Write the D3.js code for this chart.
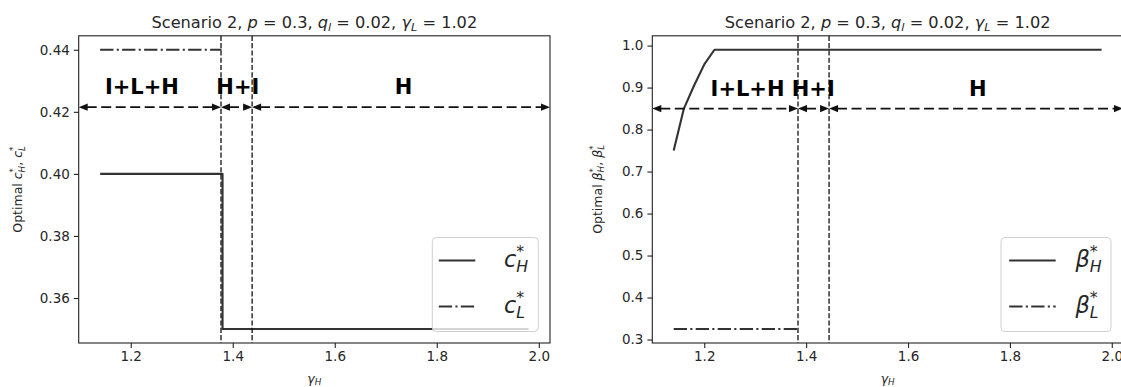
<!DOCTYPE html>
<meta charset="utf-8">
<script src="https://d3js.org/d3.v7.min.js"></script>
<style>
  body { margin: 0; background: #fff; }
  text { font-family: "DejaVu Sans", sans-serif; fill: #262626; }
</style>
<svg id="chart" width="1121" height="387"></svg>
<script>
// ---- data ----
var xTicks = [1.2, 1.4, 1.6, 1.8, 2.0];
var cTicks = [0.36, 0.38, 0.40, 0.42, 0.44];
var bTicks = [0.3, 0.4, 0.5, 0.6, 0.7, 0.8, 0.9, 1.0];

// left panel: optimal c
var cH_x = [1.14, 1.38, 1.38, 1.98];
var cH_y = [0.40, 0.40, 0.35, 0.35];
var cL_x = [1.14, 1.378];
var cL_y = [0.44, 0.44];
var cBounds = [1.377, 1.438];
var cLabelX = [1.222, 1.41, 1.735];
var cLabelY = 0.4257;
var cArrowY = 0.4215;

// right panel: optimal beta
var bH_x = [1.14, 1.16, 1.18, 1.20, 1.22, 1.98];
var bH_y = [0.75, 0.85, 0.905, 0.955, 0.99, 0.99];
var bL_x = [1.14, 1.385];
var bL_y = [0.325, 0.325];
var bBounds = [1.384, 1.445];
var bLabelX = [1.285, 1.414, 1.737];
var bLabelY = 0.88;
var bArrowY = 0.85;

var regionNames = ["I+L+H", "H+I", "H"];

var svg = d3.select("#chart");
var axTop = 35.8, axBottom = 343;

// writes text with italic parts and stacked sub/superscripts into a <text>
function rich(text, parts, fs) {
  var off = 0, pendDx = 0;
  parts.forEach(function(p) {
    if (p.t !== undefined) {
      text.append("tspan")
        .attr("dy", -off).attr("dx", pendDx || null)
        .style("font-size", fs + "px")
        .style("font-style", p.it ? "italic" : null)
        .text(p.t);
      off = 0; pendDx = 0;
    } else {
      var s = fs * 0.7, w = 0, w2 = 0;
      if (p.sub) {
        var ts = text.append("tspan")
          .attr("dy", fs * 0.2 - off).attr("dx", pendDx || null)
          .style("font-size", s + "px").style("font-style", "italic")
          .text(p.sub);
        off = fs * 0.2; pendDx = 0;
        w = ts.node().getComputedTextLength();
      }
      if (p.sup) {
        var tp = text.append("tspan")
          .attr("dy", -fs * 0.45 - off).attr("dx", p.sub ? -w : null)
          .style("font-size", s + "px")
          .text(p.sup);
        off = -fs * 0.45;
        w2 = tp.node().getComputedTextLength();
        if (p.sub && w > w2) pendDx = w - w2;
      }
    }
  });
}

function drawPanel(cfg) {
  var x = d3.scaleLinear().domain(cfg.xdom).range([cfg.x0, cfg.x1]);
  var y = d3.scaleLinear().domain(cfg.ydom).range([axBottom, axTop]);
  var g = svg.append("g");

  var clip = "clip" + cfg.id;
  svg.append("clipPath").attr("id", clip).append("rect")
    .attr("x", cfg.x0).attr("y", axTop).attr("width", cfg.x1 - cfg.x0).attr("height", axBottom - axTop);

  var plot = g.append("g").attr("clip-path", "url(#" + clip + ")");
  var line = d3.line().x(function(d) { return x(d[0]); }).y(function(d) { return y(d[1]); });

  // solid series
  plot.append("path")
    .datum(d3.zip(cfg.hx, cfg.hy))
    .attr("d", line)
    .attr("fill", "none").attr("stroke", "#333").attr("stroke-width", 2.1)
    .attr("stroke-linejoin", "round");
  // dash-dot series
  plot.append("path")
    .datum(d3.zip(cfg.lx, cfg.ly))
    .attr("d", line)
    .attr("fill", "none").attr("stroke", "#333").attr("stroke-width", 2.1)
    .attr("stroke-dasharray", "13.3,3.3,2.1,3.3");

  // region boundaries
  plot.selectAll(".bound").data(cfg.bounds).enter().append("line")
    .attr("x1", function(d) { return x(d); }).attr("x2", function(d) { return x(d); })
    .attr("y1", axTop).attr("y2", axBottom)
    .attr("stroke", "#111").attr("stroke-width", 1.3)
    .attr("stroke-dasharray", "5.1,2.2");

  // double-headed arrows between boundaries
  var edges = [x.domain()[0]].concat(cfg.bounds, [x.domain()[1]]);
  var ay = y(cfg.arrowY), hl = 9, hw = 3.6;
  d3.range(3).forEach(function(i) {
    var a = x(edges[i]), b = x(edges[i + 1]);
    plot.append("line")
      .attr("x1", a + hl - 1).attr("x2", b - hl + 1).attr("y1", ay).attr("y2", ay)
      .attr("stroke", "#111").attr("stroke-width", 1.7)
      .attr("stroke-dasharray", "10,4.5");
    plot.append("path")
      .attr("d", "M" + a + "," + ay + "L" + (a + hl) + "," + (ay - hw) + "L" + (a + hl) + "," + (ay + hw) + "Z")
      .attr("fill", "#111");
    plot.append("path")
      .attr("d", "M" + b + "," + ay + "L" + (b - hl) + "," + (ay - hw) + "L" + (b - hl) + "," + (ay + hw) + "Z")
      .attr("fill", "#111");
  });

  // region names
  g.selectAll(".region").data(regionNames).enter().append("text")
    .attr("x", function(d, i) { return x(cfg.labelX[i]); })
    .attr("y", y(cfg.labelY))
    .attr("text-anchor", "middle")
    .style("font-size", "21px").style("font-weight", "bold").style("fill", "#000")
    .text(function(d) { return d; });

  // spines
  g.append("rect")
    .attr("x", cfg.x0).attr("y", axTop).attr("width", cfg.x1 - cfg.x0).attr("height", axBottom - axTop)
    .attr("fill", "none").attr("stroke", "#222").attr("stroke-width", 1.1);

  // axes
  var xa = g.append("g").attr("transform", "translate(0," + axBottom + ")")
    .call(d3.axisBottom(x).tickValues(xTicks).tickFormat(d3.format(".1f")).tickSize(4.9).tickPadding(4));
  var ya = g.append("g").attr("transform", "translate(" + cfg.x0 + ",0)")
    .call(d3.axisLeft(y).tickValues(cfg.yTicks).tickFormat(d3.format(cfg.yfmt)).tickSize(4.9).tickPadding(4));
  [xa, ya].forEach(function(a) {
    a.select(".domain").remove();
    a.selectAll(".tick line").attr("stroke", "#222").attr("stroke-width", 1.1);
    a.selectAll(".tick text").style("font-size", "13.5px").style("font-family", "DejaVu Sans").attr("fill", "#262626");
  });

  // title
  var cx = (cfg.x0 + cfg.x1) / 2;
  var title = g.append("text").attr("x", cx).attr("y", axTop - 8.3).attr("text-anchor", "middle");
  rich(title, [
    {t: "Scenario 2, "}, {t: "p", it: 1}, {t: " = 0.3, "}, {t: "q", it: 1}, {sub: "l"},
    {t: " = 0.02, "}, {t: "\u03b3", it: 1}, {sub: "L"}, {t: " = 1.02"}
  ], 16.2);

  // axis labels
  var xl = g.append("text").attr("x", cx).attr("y", 382.5).attr("text-anchor", "middle");
  rich(xl, [{t: "\u03b3", it: 1}, {sub: "H"}], 12.5);
  var yl = g.append("text").attr("text-anchor", "middle")
    .attr("transform", "translate(" + cfg.ylabX + "," + ((axTop + axBottom) / 2) + ") rotate(-90)");
  rich(yl, [{t: "Optimal "}, {t: cfg.sym, it: 1}, {sub: "H", sup: "*"}, {t: ", "}, {t: cfg.sym, it: 1}, {sub: "L", sup: "*"}], 12.5);

  // legend
  var L = cfg.legend;
  var lx1 = cfg.legRight, lx0 = lx1 - L.w, ly1 = axBottom - 11.5, ly0 = ly1 - 94;
  var lg = g.append("g");
  lg.append("rect").attr("x", lx0).attr("y", ly0).attr("width", L.w).attr("height", 94)
    .attr("rx", 4).attr("fill", "#fff").attr("fill-opacity", 0.8)
    .attr("stroke", "#d0d0d0").attr("stroke-width", 1);
  var entries = [{sub: "H", dash: null, ey: 23}, {sub: "L", dash: "13.3,3.3,2.1,3.3", ey: 69}];
  entries.forEach(function(e) {
    lg.append("line")
      .attr("x1", lx0 + L.s0).attr("x2", lx0 + L.s0 + L.hlen)
      .attr("y1", ly0 + e.ey).attr("y2", ly0 + e.ey)
      .attr("stroke", "#333").attr("stroke-width", 2.1)
      .attr("stroke-dasharray", e.dash);
    var t = lg.append("text").attr("x", lx0 + L.tx).attr("y", ly0 + e.ey + 6.5);
    rich(t, [{t: cfg.sym, it: 1}, {sub: e.sub, sup: "*"}], 22.5);
  });
}

drawPanel({
  id: 1, x0: 78.7, x1: 550, xdom: [1.098, 2.022], ydom: [0.3455, 0.4445],
  hx: cH_x, hy: cH_y, lx: cL_x, ly: cL_y, bounds: cBounds,
  labelX: cLabelX, labelY: cLabelY, arrowY: cArrowY,
  yTicks: cTicks, yfmt: ".2f", sym: "c", ylabX: 22,
  legRight: 538.3, legend: {w: 106, s0: 6.5, hlen: 36.5, tx: 71.6}
});
drawPanel({
  id: 2, x0: 652.3, x1: 1123, xdom: [1.098, 2.022], ydom: [0.29175, 1.02325],
  hx: bH_x, hy: bH_y, lx: bL_x, ly: bL_y, bounds: bBounds,
  labelX: bLabelX, labelY: bLabelY, arrowY: bArrowY,
  yTicks: bTicks, yfmt: ".1f", sym: "\u03b2", ylabX: 601.7,
  legRight: 1111, legend: {w: 110, s0: 8.2, hlen: 46.5, tx: 74.4}
});
</script>
